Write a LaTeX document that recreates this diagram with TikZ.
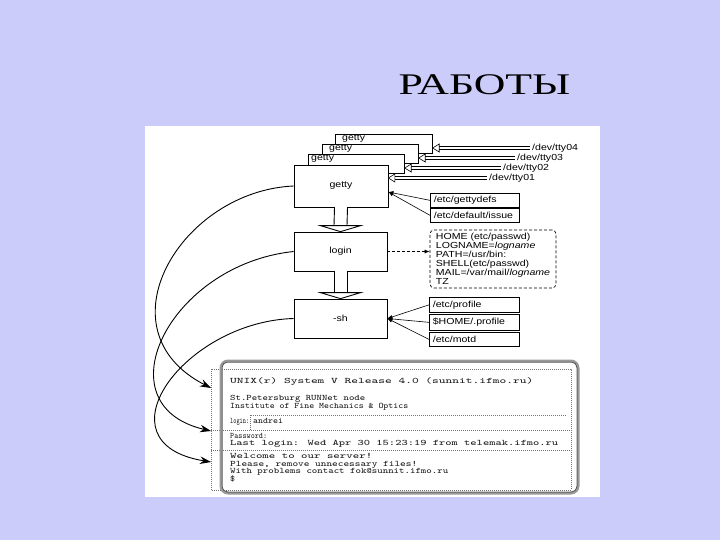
\documentclass[tikz,border=0pt]{standalone}
\usepackage{fontspec}
\usepackage{graphicx}
\usetikzlibrary{arrows.meta,calc}
\newfontfamily\titlefont[FakeStretch=1.46]{Liberation Serif}
\newfontfamily\dsf[FakeStretch=1.2]{Liberation Sans}
\definecolor{slidebg}{RGB}{204,204,250}
\newcommand{\TermLine}[2]{\resizebox{#1pt}{\height}{#2}}
\begin{document}
\begin{tikzpicture}[x=1pt,y=-1pt,
  box/.style={draw=black, fill=white, line width=0.7pt},
  lbl/.style={font=\dsf\fontsize{8.8}{9}\selectfont},
  fbox/.style={box, lbl, anchor=north west, text width=82pt, inner xsep=3.5pt, inner ysep=0pt, align=left},
  farrow/.style={line width=0.6pt, -{Latex[length=5pt,width=4pt]}},
  cur/.style={line width=0.9pt, -{Stealth[length=11pt,width=7.5pt]}},
  tline/.style={anchor=base west, inner sep=0pt, font=\ttfamily\fontsize{8.4}{8.5}\selectfont, text=black!90},
  dots/.style={black!55, line width=0.5pt, dash pattern=on 0.7pt off 1.3pt},
  hhead/.style={draw=black, fill=white, line width=0.6pt},
]
\useasboundingbox (0,0) rectangle (720,540);
\fill[slidebg] (0,0) rectangle (720,540);
\fill[white] (145,126) rectangle (600,497);
\node[anchor=base, inner sep=0pt, font=\titlefont\fontsize{30}{36}\selectfont] (title) at (484.5,95) {РАБОТЫ};

% ---- terminal ----
\draw[dots] (211,369) rectangle (571,490);
\draw[dots] (211,430) -- (571,430);
\draw[dots] (211,450.5) -- (571,450.5);
\draw[dots] (250,430) -- (250,415) -- (566,415);
\node[draw=black!40, line width=3pt, rounded corners=7pt, minimum width=357pt, minimum height=132pt] (term) at (399.5,427) {};
\draw[black!75, line width=0.5pt, rounded corners=5.5pt] ($(term.north west)+(2.5,2.5)$) rectangle ($(term.south east)+(-2.5,-2.5)$);

\node[tline] (t1) at (230,383.5) {\TermLine{303}{UNIX(r) System V Release 4.0 (sunnit.ifmo.ru)}};
\node[tline] (t2) at (230,400.5) {\TermLine{135}{St.Petersburg RUNNet node}};
\node[tline] (t3) at (230,408) {\TermLine{178}{Institute of Fine Mechanics \& Optics}};
\node[tline] (t4) at (230,423.5) {\TermLine{19}{login:}};
\node[tline] (t4b) at (253,423.5) {\TermLine{30}{andrei}};
\node[tline] (t5) at (230,438.5) {\TermLine{37}{Password:}};
\node[tline] (t6) at (230,445.5) {\TermLine{328}{Last login: Wed Apr 30 15:23:19 from telemak.ifmo.ru}};
\node[tline] (t7) at (230,458.5) {\TermLine{142}{Welcome to our server!}};
\node[tline] (t8) at (230,466) {\TermLine{187}{Please, remove unnecessary files!}};
\node[tline] (t9) at (230,473.5) {\TermLine{218}{With problems contact fok@sunnit.ifmo.ru}};
\node[tline] (t10) at (230,481.5) {\TermLine{5}{\$}};

\coordinate (a1) at (211,388);
\coordinate (a2) at (211,431);
\coordinate (a3) at (211,462);

% ---- getty stack ----
\node[box, anchor=north west, minimum width=97pt, minimum height=19pt, inner sep=0pt] (b1) at (335,134) {};
\node[lbl, anchor=base west, inner sep=0pt] (b1t) at (342,141) {getty};
\node[box, anchor=north west, minimum width=96pt, minimum height=19pt, inner sep=0pt] (b2) at (322,144) {};
\node[lbl, anchor=base west, inner sep=0pt] (b2t) at (329,151) {getty};
\node[box, anchor=north west, minimum width=96pt, minimum height=19pt, inner sep=0pt] (b3) at (308,154) {};
\node[lbl, anchor=base west, inner sep=0pt] (b3t) at (311,161) {getty};
\node[box, lbl, minimum width=94pt, minimum height=42pt] (getty) at (341,186) {getty};
\node[box, lbl, minimum width=93pt, minimum height=39pt] (login) at (340.5,251.5) {login};
\node[box, lbl, minimum width=93pt, minimum height=39pt] (sh) at (340.5,318.5) {-sh};

% hollow arrows between the process boxes
\fill[white] ($(getty.south)+(-6.5,0)$) rectangle ($(login.north)+(6.5,-6)$);
\draw[line width=0.9pt] ($(getty.south)+(-6.5,0)$) -- ($(login.north)+(-6.5,-6)$);
\draw[line width=0.9pt] ($(getty.south)+(6.5,0)$) -- ($(login.north)+(6.5,-6)$);
\draw[hhead, line width=0.9pt] ($(login.north)+(-20,-6)$) -- (login.north) -- ($(login.north)+(20,-6)$) -- cycle;
\fill[white] ($(login.south)+(-6.5,0)$) rectangle ($(sh.north)+(6.5,-6)$);
\draw[line width=0.9pt] ($(login.south)+(-6.5,0)$) -- ($(sh.north)+(-6.5,-6)$);
\draw[line width=0.9pt] ($(login.south)+(6.5,0)$) -- ($(sh.north)+(6.5,-6)$);
\draw[hhead, line width=0.9pt] ($(sh.north)+(-20,-6)$) -- (sh.north) -- ($(sh.north)+(20,-6)$) -- cycle;

% tty lines
\node[lbl, anchor=west, inner sep=1pt] (tty04) at (531,148) {/dev/tty04};
\node[lbl, anchor=west, inner sep=1pt] (tty03) at (516,158) {/dev/tty03};
\node[lbl, anchor=west, inner sep=1pt] (tty02) at (502,168) {/dev/tty02};
\node[lbl, anchor=west, inner sep=1pt] (tty01) at (488,178) {/dev/tty01};
\coordinate (h04) at (tty04.west -| b1.east);
\coordinate (h03) at (tty03.west -| b2.east);
\coordinate (h02) at (tty02.west -| b3.east);
\coordinate (h01) at (tty01.west -| getty.east);
\foreach \hh/\ll in {h04/tty04, h03/tty03, h02/tty02, h01/tty01} {
  \fill[black] ($(\hh)+(5,-1.6)$) rectangle ($(\ll.west)+(-1,1.6)$);
  \fill[white] ($(\hh)+(5,-0.6)$) rectangle ($(\ll.west)+(-1,0.6)$);
  \draw[hhead] (\hh) -- ++(6.5,-4) -- ++(0,8) -- cycle;
}

% config files for getty
\node[fbox, minimum height=14pt] (gdefs) at (430,193) {/etc/gettydefs};
\node[fbox, minimum height=14pt] (issue) at (430,208) {/etc/default/issue};
\coordinate (gin) at ($(getty.east)+(0,6)$);
\draw[farrow] (gdefs.west) -- (gin);
\draw[farrow] (issue.west) -- (gin);

% environment
\node[box, lbl, dash pattern=on 3pt off 2pt, rounded corners=4pt, align=left, minimum width=126pt, minimum height=58pt, inner sep=0pt] (env) at (493,259)
  {HOME (etc/passwd)\\LOGNAME=\textit{logname}\\PATH=/usr/bin:\\SHELL(etc/passwd)\\MAIL=/var/mail/\textit{logname}\\TZ};
\draw[farrow, dash pattern=on 3pt off 2pt] (login.east) -- (env.west |- login.east);

% shell files
\node[fbox, minimum height=15pt, text width=83pt] (prof) at (429,297) {/etc/profile};
\node[fbox, minimum height=16pt, text width=83pt] (hprof) at (429,314) {\$HOME/.profile};
\node[fbox, minimum height=14pt, text width=83pt] (motd) at (429,332) {/etc/motd};
\draw[farrow] (prof.west) -- (sh.east);
\draw[farrow] (hprof.west) -- (sh.east);
\draw[farrow] (motd.west) -- (sh.east);

% curved arrows to the terminal
\draw[cur] (getty.west) .. controls ($(getty.west)+(-113,5)$) and ($(a1)+(-113,-58)$) .. (a1);
\draw[cur] (login.west) .. controls ($(login.west)+(-124,13)$) and ($(a2)+(-111,-26)$) .. (a2);
\draw[cur] (sh.west) .. controls ($(sh.west)+(-109,3)$) and ($(a3)+(-116,-19)$) .. (a3);
\end{tikzpicture}
\end{document}
